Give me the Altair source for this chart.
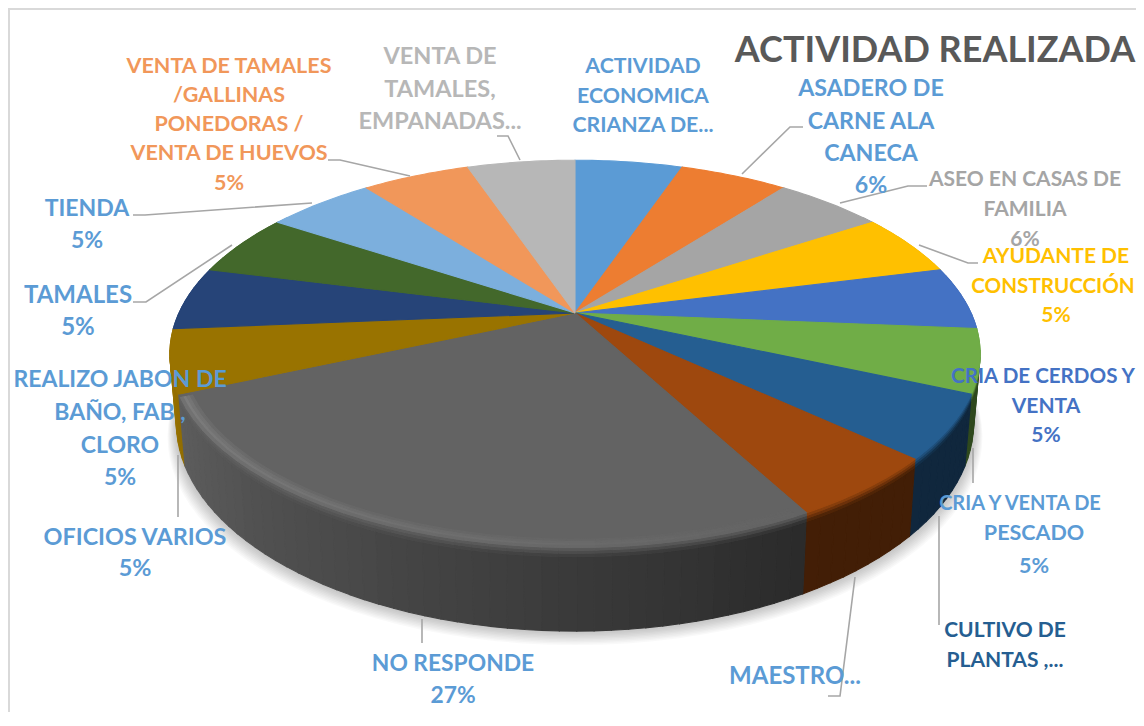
import math
import altair as alt
import pandas as pd

categories = ["ACTIVIDAD ECONOMICA CRIANZA DE...", "ASADERO DE CARNE ALA CANECA", "ASEO EN CASAS DE FAMILIA",
              "AYUDANTE DE CONSTRUCCIÓN", "CRIA DE CERDOS Y VENTA", "CRIA Y VENTA DE PESCADO",
              "CULTIVO DE PLANTAS ,...", "MAESTRO...", "NO RESPONDE", "OFICIOS VARIOS",
              "REALIZO JABON DE BAÑO, FAB , CLORO", "TAMALES", "TIENDA",
              "VENTA DE TAMALES /GALLINAS PONEDORAS / VENTA DE HUEVOS", "VENTA DE TAMALES, EMPANADAS..."]
values = [5.26, 5.26, 5.26, 5.26, 5.26, 5.26, 5.26, 5.26, 26.3, 5.26, 5.26, 5.26, 5.26, 5.26, 5.26]
slice_colors = ["#5B9BD5", "#ED7D31", "#A5A5A5", "#FFC000", "#4472C4", "#70AD47", "#255E91", "#9E480E",
                "#636363", "#997300", "#264478", "#43682B", "#7CAFDD", "#F1975A", "#B7B7B7"]

BLUE, GRAY, GOLD, ROYAL, NAVY, ORANGE, LGRAY = "#5B9BD5", "#A5A5A5", "#FFC000", "#4472C4", "#255E91", "#F1975A", "#B7B7B7"
label_rows = [
    ("ACTIVIDAD", 643, 67, BLUE, 21.3), ("ECONOMICA", 643, 97, BLUE, 21.3), ("CRIANZA DE...", 643, 126, BLUE, 21.3),
    ("ASADERO DE", 871, 89, BLUE, 23.2), ("CARNE ALA", 871, 122, BLUE, 23.2), ("CANECA", 871, 154, BLUE, 23.2), ("6%", 871, 186, BLUE, 23.2),
    ("ASEO EN CASAS DE", 1025, 180, GRAY, 21), ("FAMILIA", 1025, 210, GRAY, 21), ("6%", 1025, 240, GRAY, 21),
    ("AYUDANTE DE", 1056, 257, GOLD, 21), ("CONSTRUCCIÓN", 1053, 287, GOLD, 20.6), ("5%", 1056, 316, GOLD, 21),
    ("CRIA DE CERDOS Y", 1043, 377, ROYAL, 20.6), ("VENTA", 1046, 407, ROYAL, 21), ("5%", 1046, 436, ROYAL, 21),
    ("CRIA Y VENTA DE", 1020, 504, BLUE, 20), ("PESCADO", 1034, 534, BLUE, 21.5), ("5%", 1034, 567, BLUE, 21.5),
    ("CULTIVO DE", 1005, 631, NAVY, 21), ("PLANTAS ,...", 1005, 661, NAVY, 21),
    ("MAESTRO...", 795, 677, BLUE, 24),
    ("NO RESPONDE", 453, 664, BLUE, 22.8), ("27%", 453, 696, BLUE, 22.8),
    ("OFICIOS VARIOS", 135, 538, BLUE, 23.4), ("5%", 135, 569, BLUE, 23.4),
    ("REALIZO JABON DE", 120, 380, BLUE, 23), ("BAÑO, FAB ,", 120, 413, BLUE, 23), ("CLORO", 120, 446, BLUE, 23), ("5%", 120, 478, BLUE, 23),
    ("TAMALES", 78, 296, BLUE, 24), ("5%", 78, 328, BLUE, 24),
    ("TIENDA", 87, 209, BLUE, 23), ("5%", 87, 241, BLUE, 23),
    ("VENTA DE TAMALES", 229, 67, ORANGE, 21.5), ("/GALLINAS", 229, 96, ORANGE, 21.5), ("PONEDORAS /", 229, 125, ORANGE, 21.5),
    ("VENTA DE HUEVOS", 229, 154, ORANGE, 21.5), ("5%", 229, 184, ORANGE, 21.5),
    ("VENTA DE", 440, 57, LGRAY, 23.5), ("TAMALES,", 440, 90, LGRAY, 23.5), ("EMPANADAS...", 440, 122, LGRAY, 23.5),
]
leaders = [
    [(497, 136), (508, 136), (520, 160)], [(328, 160), (340, 160), (410, 176)],
    [(133, 215), (145, 215), (312, 203)], [(133, 302), (146, 302), (232, 245)],
    [(178, 517), (178, 455)], [(422, 643), (422, 619)], [(828, 696), (840, 696), (855, 577)],
    [(939, 625), (939, 516)], [(973, 483), (973, 448)], [(978, 263), (968, 263), (919, 245)],
    [(927, 186), (908, 186), (840, 203)], [(803, 127), (790, 127), (742, 174)],
]

CX, CY, A, B, P, D = 575.0, 313.0, 396.0, 185.0, 0.211, 66.0


def project(deg, r=1.0, depth=0.0):
    t = math.radians(deg)
    u, v = r * math.sin(t), r * math.cos(t)
    w = 1 + P * v
    return CX + A * u / w * (1 - 0.016 * depth), CY - B * v / w + D * depth / w


def rgb(h):
    return [int(h[i:i + 2], 16) for i in (1, 3, 5)]


def mix(c1, c2, t):
    return "#%02x%02x%02x" % tuple(round(a + (b - a) * t) for a, b in zip(c1, c2))


def side_factor(deg):
    if deg <= 150:
        return 0.42
    return min(1.0, 0.42 + (deg - 150) * 0.0055)


total = sum(values)
edges = [0.0]
for val in values:
    edges.append(edges[-1] + val / total * 360)

poly_rows, pid = [], 0


def add_poly(points, color):
    global pid
    pts = points + points[:1]
    for i, (x, y) in enumerate(pts):
        poly_rows.append({"id": pid, "i": i, "x": x, "y": y, "c": color})
    pid += 1


strips = []
for k, col in enumerate(slice_colors):
    a0, a1 = edges[k], edges[k + 1]
    n = max(1, int((a1 - a0) / 2))
    for j in range(n):
        s0 = a0 + (a1 - a0) * j / n
        s1 = a0 + (a1 - a0) * (j + 1) / n
        mid = (s0 + s1) / 2
        if 55 < mid < 305:
            strips.append((math.cos(math.radians(mid)), s0, s1, k, mid))
strips.sort(key=lambda q: -q[0])
bands = [(0, .035, .25), (.035, .07, .55), (.07, .11, .85), (.11, 1, 1)]
for _, s0, s1, k, mid in strips:
    top = rgb(slice_colors[k])
    f = side_factor(mid)
    dark = [c * f for c in top]
    for d0, d1, t in reversed(bands):
        add_poly([project(s0, 1, d0), project(s1, 1, d0), project(s1, 1, d1), project(s0, 1, d1)], mix(top, dark, t))

for k, col in enumerate(slice_colors):
    a0, a1 = edges[k], edges[k + 1]
    n = int(a1 - a0) + 1
    arc = [project(a0 + (a1 - a0) * j / n) for j in range(n + 1)]
    add_poly([(CX, CY)] + arc, col)

nr = values.index(max(values))
for r0, r1, amt in [(.972, .98, .35), (.98, .988, .7), (.988, .994, 1.0), (.994, 1.0, .6)]:
    a0, a1 = edges[nr] + 1.5, edges[nr + 1] - 1
    n = 30
    for j in range(n):
        s0, s1 = a0 + (a1 - a0) * j / n, a0 + (a1 - a0) * (j + 1) / n
        light = amt * (0.01 + 0.16 * (s0 - a0) / (a1 - a0))
        add_poly([project(s0, r0), project(s1, r0), project(s1, r1), project(s0, r1)],
                 mix(rgb(slice_colors[nr]), [255, 255, 255], light))

shadow_rows = []
for s in range(10, 0, -1):
    off = s * 2.0
    for i, deg in enumerate(range(0, 361, 3)):
        x, y = project(deg, 1, 1)
        shadow_rows.append({"id": s, "i": i, "x": CX + (x - CX) * (1 + off / 900), "y": y + off * 0.7})

leader_rows = [{"id": i, "i": j, "x": x, "y": y} for i, pts in enumerate(leaders) for j, (x, y) in enumerate(pts)]
label_df = pd.DataFrame(label_rows, columns=["t", "x", "y", "c", "s"])
frame_df = pd.DataFrame([{"i": 0, "x": 1136, "y": 9}, {"i": 1, "x": 9, "y": 9}, {"i": 2, "x": 9, "y": 712}])

W, H = 1128, 704
xs = alt.Scale(domain=[8, 8 + W], nice=False, zero=False)
ys = alt.Scale(domain=[8 + H, 8], nice=False, zero=False)
X = alt.X("x:Q", scale=xs, axis=None)
Y = alt.Y("y:Q", scale=ys, axis=None)

frame = alt.Chart(frame_df).mark_line(color="#D9D9D9", strokeWidth=2).encode(X, Y, order="i:Q")
shadow = alt.Chart(pd.DataFrame(shadow_rows)).mark_line(fill="#000000", fillOpacity=0.022, strokeWidth=0).encode(
    X, Y, detail="id:N", order="i:Q")
pie = alt.Chart(pd.DataFrame(poly_rows)).mark_line(strokeWidth=1.1).encode(
    X, Y, detail="id:N", order="i:Q",
    fill=alt.Fill("c:N", scale=None), stroke=alt.Stroke("c:N", scale=None))
lead = alt.Chart(pd.DataFrame(leader_rows)).mark_line(color="#A6A6A6", strokeWidth=1.6).encode(
    X, Y, detail="id:N", order="i:Q")
labels = alt.Chart(label_df).mark_text(font="Lato", fontWeight="bold", align="center", baseline="middle").encode(
    X, Y, text="t:N", color=alt.Color("c:N", scale=None), size=alt.Size("s:Q", scale=None))
title = alt.Chart(pd.DataFrame([{"x": 935, "y": 51, "t": "ACTIVIDAD REALIZADA"}])).mark_text(
    font="Lato", fontWeight="bold", fontSize=36, color="#595959", align="center", baseline="middle").encode(X, Y, text="t:N")

chart = alt.layer(frame, shadow, pie, lead, labels, title).properties(
    width=W, height=H, background="#FFFFFF",
    autosize=alt.AutoSizeParams(type="none", contains="content"),
    padding={"left": 0, "top": 0, "right": 0, "bottom": 0},
).configure_view(stroke=None)
chart.save("out.html", embed_options={"renderer": "svg", "actions": False})
